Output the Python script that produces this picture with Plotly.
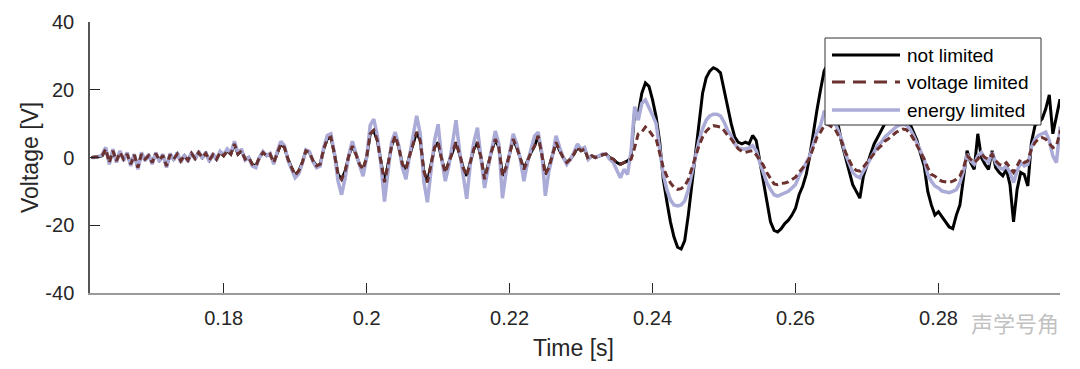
import numpy as np
import plotly.graph_objects as go

# time sampling grid [s]
t_start = 0.1615
t_step = 0.0005

# voltage limited [V]
voltage_limited = [
    0.0, 0.0, 0.2, 0.5, 2.5, -1.5, 2.0, -1.0, 1.5, -0.5,
    1.0, -2.0, 0.8, -3.0, 1.0, -0.5, 0.5, -1.5, 1.2, -0.8,
    0.6, -2.5, 0.8, -0.5, 1.0, -1.0, 0.5, -0.8, 1.2, -0.3,
    1.5, 0.0, 1.2, -0.8, 0.8, -0.5, 1.5, 0.5, 2.0, 1.0,
    4.0, 1.0, 2.0, -0.5, 0.0, -2.0, -2.5, 0.0, 1.5, 0.5,
    1.0, -1.5, 1.5, 4.0, 3.0, -0.5, -3.0, -5.2, -4.0, -1.5,
    2.0, 1.5, -1.0, -2.5, -2.0, 2.5, 5.5, 6.0, 1.0, -5.0,
    -6.4, -4.0, 0.5, 3.4, 1.0, -2.0, -3.5, 0.0, 7.0, 8.0,
    5.0, -1.0, -7.3, -2.0, 3.5, 6.4, 3.0, -2.0, -3.5, 0.5,
    4.0, 7.5, 5.0, -4.0, -7.3, -2.0, 3.0, 4.5, -0.5, -4.4,
    -1.5, 2.0, 4.5, 1.0, -3.0, -5.4, -1.0, 2.5, 4.5, 0.0,
    -6.4, -2.0, 2.0, 5.4, 3.0, -5.4, -3.0, 1.0, 5.4, 3.0,
    -0.3, -3.5, -1.0, 1.5, 3.4, 6.4, 1.0, -5.0, -3.0, 0.5,
    4.5, 2.0, 0.0, -1.5, -0.5, 1.0, 3.0, 2.0, 2.5, -0.5,
    0.5, 0.0, 0.5, 0.8, 1.0, 0.0, -0.5, -1.5, -2.0, -1.5,
    -1.0, -0.5, 3.0, 7.0, 7.5, 9.0, 8.0, 6.5, 5.5, 1.5,
    -3.0, -5.5, -7.5, -8.8, -9.4, -9.2, -8.4, -6.5, -3.0, 0.0,
    3.5, 6.0, 7.8, 8.8, 9.4, 9.2, 9.0, 8.0, 6.5, 5.5,
    3.8, 2.5, 1.8, 1.5, 1.8, 2.0, 0.8, -0.8, -2.3, -4.5,
    -6.2, -7.8, -8.0, -7.6, -7.5, -7.2, -6.5, -5.8, -4.4, -3.0,
    -1.8, 0.0, 3.0, 6.0, 7.5, 9.4, 9.8, 9.2, 8.5, 6.5,
    4.5, 1.5, -0.8, -2.9, -3.8, -4.0, -2.8, -1.5, 0.0, 1.2,
    2.5, 3.5, 4.8, 5.5, 6.5, 7.3, 8.0, 8.4, 8.2, 7.2,
    5.5, 3.5, 1.5, -0.5, -3.0, -5.0, -5.5, -6.5, -7.0, -7.2,
    -7.4, -7.0, -6.4, -5.5, -3.0, 0.5, -0.5, -1.5, -0.5, 1.0,
    0.0, -0.5, 1.0, -1.0, -2.0, -2.4, -1.5, -3.0, -4.4, -2.4,
    -0.5, -1.5, -1.0, 2.5, 4.4, 5.5, 5.9, 5.4, 4.0, 2.9,
    3.4, 7.4, 6.4,
]

# not limited: identical to voltage limited before the onset, then these values
not_limited_onset_index = 151
not_limited_late = [
    0.0, 14.0, 13.0, 19.0, 22.0, 21.0, 17.0, 12.0, 4.5,
    -6.5, -13.0, -19.0, -23.5, -26.5, -27.0, -24.5, -17.0, -8.0, 1.0,
    11.0, 19.0, 23.5, 25.5, 26.5, 26.0, 25.0, 20.0, 14.0, 10.0,
    6.0, 4.5, 4.0, 4.5, 4.0, 6.5, 5.0, -1.0, -8.0, -14.0,
    -19.0, -21.5, -22.0, -21.0, -19.5, -18.5, -17.0, -15.0, -11.0, -8.5,
    -5.0, 0.5, 8.0, 14.0, 20.0, 25.5, 27.5, 27.0, 18.0, 9.3,
    4.0, 0.0, -4.4, -8.0, -10.0, -12.0, -5.5, -2.0, 1.0, 4.0,
    6.0, 8.4, 10.0, 11.0, 12.0, 12.5, 12.5, 12.0, 11.0, 10.0,
    7.5, 5.0, 1.0, -2.5, -10.0, -14.0, -17.0, -16.0, -17.5, -19.0,
    -20.5, -21.0, -17.0, -14.0, -6.4, 2.0, -1.5, -3.5, 7.0, 0.0,
    -2.0, -3.5, 2.0, -3.0, -4.4, -5.4, -3.5, -8.0, -19.0, -9.4,
    -4.4, -5.0, -8.4, 4.4, 9.4, 10.5, 11.4, 14.3, 18.5, 7.0,
    12.4, 17.2, 12.0,
]

# energy limited [V]
energy_limited = [
    0.0, 0.0, 0.3, 0.8, 3.0, -2.0, 2.5, -1.5, 2.0, -1.0,
    1.5, -2.5, 1.0, -3.5, 1.5, -1.0, 1.0, -2.0, 1.5, -1.2,
    1.0, -3.0, 1.2, -0.8, 1.5, -1.5, 0.8, -1.2, 1.5, -0.6,
    1.8, -0.3, 1.6, -1.2, 1.2, -0.8, 1.8, 0.8, 2.5, 1.3,
    4.8, 1.3, 2.5, -0.8, 0.0, -2.5, -3.0, 0.0, 1.8, 0.6,
    1.2, -2.0, 1.8, 4.8, 3.5, -0.8, -3.5, -6.0, -4.8, -1.8,
    2.3, 1.8, -1.3, -3.0, -2.5, 3.0, 6.5, 7.0, 1.2, -7.0,
    -11.0, -6.0, 0.6, 4.8, 1.2, -2.5, -5.5, 0.0, 9.5, 11.3,
    6.5, -2.0, -13.0, -4.0, 4.5, 7.5, 3.5, -3.0, -6.4, 0.5,
    6.0, 12.3, 7.0, -7.0, -13.2, -3.5, 5.0, 9.8, -0.5, -7.0,
    -2.5, 4.0, 11.0, 2.0, -6.0, -12.2, -2.0, 4.5, 8.8, 0.0,
    -9.0, -3.0, 3.0, 7.8, 4.0, -12.0, -4.5, 1.5, 7.0, 4.0,
    -0.5, -7.0, -1.5, 2.5, 6.4, 7.5, 1.5, -11.3, -4.0, 0.5,
    6.4, 3.0, 0.0, -2.0, -0.5, 1.5, 4.0, 2.5, 3.0, -0.5,
    0.5, 0.0, 0.5, 1.0, 1.0, -0.5, -1.5, -4.0, -6.0, -3.5,
    -5.0, 2.0, 15.0, 11.0, 16.0, 17.0, 15.0, 12.5, 10.0, 2.5,
    -5.0, -9.5, -12.5, -14.0, -14.3, -14.0, -12.8, -9.5, -4.5, 0.0,
    5.0, 8.5, 11.0, 12.3, 12.8, 12.8, 12.3, 10.5, 8.0, 6.5,
    4.0, 2.8, 2.5, 2.5, 2.8, 3.5, 2.0, -1.5, -4.5, -7.5,
    -9.4, -11.0, -11.4, -11.0, -10.5, -10.0, -9.0, -8.0, -5.5, -3.5,
    -2.0, 0.5, 4.0, 7.5, 9.5, 13.4, 13.0, 12.0, 10.5, 7.5,
    5.0, 1.0, -2.0, -4.4, -5.5, -6.0, -4.0, -2.0, 0.0, 1.5,
    3.5, 4.5, 6.0, 7.0, 8.0, 8.9, 9.5, 9.8, 9.5, 8.5,
    6.5, 4.0, 2.0, -0.5, -5.0, -7.0, -8.4, -9.0, -9.9, -10.2,
    -10.4, -10.0, -9.5, -7.5, -4.0, 1.0, -1.0, -2.0, 0.5, 1.5,
    -0.5, -1.5, 1.5, -1.5, -3.0, -3.5, -2.5, -4.5, -7.4, -4.0,
    -1.5, -2.5, -2.0, 3.0, 5.4, 6.5, 7.0, 7.5, 5.0, 0.5,
    -1.5, 8.5, 8.0,
]

series_names = ["not limited", "voltage limited", "energy limited"]
x_ticks = [0.18, 0.2, 0.22, 0.24, 0.26, 0.28]
x_tick_labels = ["0.18", "0.2", "0.22", "0.24", "0.26", "0.28"]
y_ticks = [-40, -20, 0, 20, 40]
y_tick_labels = ["-40", "-20", "0", "20", "40"]

not_limited = voltage_limited[:not_limited_onset_index] + not_limited_late

n_max = max(len(voltage_limited), len(not_limited), len(energy_limited))
t = t_start + t_step * np.arange(n_max)

FONT = "Liberation Sans, Arial, sans-serif"
TXT = "#262626"
C_NOT = "#000000"
C_VOLT = "#6B3230"
C_ENERGY = "#ABABD8"

fig = go.Figure()
fig.add_trace(go.Scatter(
    x=t[:len(not_limited)], y=not_limited, mode="lines", name=series_names[0],
    line=dict(color=C_NOT, width=3), showlegend=False))
fig.add_trace(go.Scatter(
    x=t[:len(energy_limited)], y=energy_limited, mode="lines", name=series_names[2],
    line=dict(color=C_ENERGY, width=3.5), showlegend=False))
fig.add_trace(go.Scatter(
    x=t[:len(voltage_limited)], y=voltage_limited, mode="lines", name=series_names[1],
    line=dict(color=C_VOLT, width=3, dash="7px,4px"), showlegend=False))

# plot area in page pixels: x 90..1060, y 22..293 (page has an 8px body margin)
def px_x(px):
    return (px - 90) / 970.0

def px_y(py):
    return (293 - py) / 271.0

fig.update_layout(
    width=1072, height=361,
    margin=dict(l=82, r=20, t=14, b=76),
    paper_bgcolor="white", plot_bgcolor="white",
    font=dict(family=FONT, size=20, color=TXT),
    showlegend=False,
    xaxis=dict(
        range=[0.1613, 0.2970], tickvals=x_ticks, ticktext=x_tick_labels,
        ticks="inside", ticklen=10, tickcolor="#262626", tickwidth=1,
        showline=True, linecolor="#9a9a9a", linewidth=1.5,
        showgrid=False, zeroline=False, mirror=False, automargin=False,
        ticklabelstandoff=6,
        tickfont=dict(family=FONT, size=20, color=TXT),
    ),
    yaxis=dict(
        range=[-40, 40], tickvals=y_ticks, ticktext=y_tick_labels,
        ticks="inside", ticklen=10, tickcolor="#262626", tickwidth=1,
        showline=True, linecolor="#555555", linewidth=1.5,
        showgrid=False, zeroline=False, mirror=False, automargin=False,
        ticklabelstandoff=10,
        tickfont=dict(family=FONT, size=20, color=TXT),
    ),
)

# axis titles
fig.add_annotation(text="Voltage [V]", xref="paper", yref="paper",
                   x=px_x(30), y=px_y(158), textangle=-90, showarrow=False,
                   xanchor="center", yanchor="middle",
                   font=dict(family=FONT, size=23, color=TXT))
fig.add_annotation(text="Time [s]", xref="paper", yref="paper",
                   x=px_x(573), y=px_y(348), showarrow=False,
                   xanchor="center", yanchor="middle",
                   font=dict(family=FONT, size=23, color=TXT))

# legend box (drawn manually to match the long MATLAB line samples)
fig.add_shape(type="rect", xref="paper", yref="paper", layer="above",
              x0=px_x(825), x1=px_x(1041), y0=px_y(125), y1=px_y(38),
              fillcolor="white", line=dict(color="#333333", width=1))
legend_rows = [55, 82, 110]
legend_styles = [dict(color=C_NOT, width=3),
                 dict(color=C_VOLT, width=3, dash="13px,8px"),
                 dict(color=C_ENERGY, width=3.5)]
for name, row, style in zip(series_names, legend_rows, legend_styles):
    fig.add_shape(type="line", xref="paper", yref="paper", layer="above",
                  x0=px_x(832), x1=px_x(900), y0=px_y(row), y1=px_y(row),
                  line=style)
    fig.add_annotation(text=name, xref="paper", yref="paper",
                       x=px_x(905), y=px_y(row), showarrow=False,
                       xanchor="left", yanchor="middle",
                       font=dict(family=FONT, size=19, color="#000000"))

# watermark (placed just right of the last tick label)
fig.add_annotation(
    text="声学号角", xref="paper", yref="paper", x=px_x(1015), y=px_y(322),
    xanchor="center", yanchor="middle", showarrow=False,
    font=dict(family="Noto Sans CJK SC", size=22, color="rgba(185,185,185,0.9)"),
)

fig.write_html("out.html")
